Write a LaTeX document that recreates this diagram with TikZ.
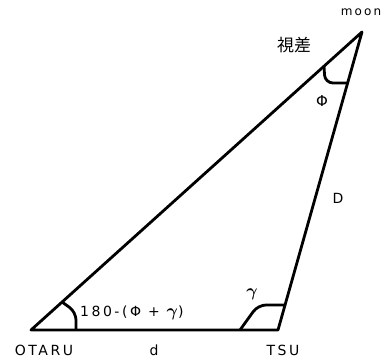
\documentclass[tikz,border=0pt]{standalone}
\usepackage{fontspec}
\setmainfont[LetterSpace=18]{DejaVu Sans}
\newfontfamily\jpfont{Noto Sans CJK JP}
\newcommand{\gam}{{\fontsize{17}{19}\selectfont\boldmath$\gamma$}}
\usetikzlibrary{positioning}

\begin{document}
\begin{tikzpicture}[x=1pt, y=-1pt,
  side/.style={line width=2.8pt, line cap=round, line join=round},
  angmark/.style={line width=2.8pt, rounded corners=8pt},
  lbl/.style={inner sep=0pt, font=\fontsize{14}{16}\selectfont}]

  \useasboundingbox (0,0) rectangle (384,360);

  % vertices
  \coordinate (otaru) at (31,330);
  \coordinate (tsu)   at (278,330);
  \coordinate (moon)  at (362,32);

  \draw[side] (otaru) -- (tsu) -- (moon) -- cycle;

  % angle marks
  \draw[angmark] (62,302) -- (76,312) -- (76,330);
  \draw[angmark] (240,330) -- (258,305) -- (284,305);
  \draw[angmark] (324,66) -- (325,83) -- (348,83);

  % labels
  \node[lbl, font=\fontsize{12}{14}\selectfont] (lmoon) at (361,12) {moon};
  \node[lbl, font=\jpfont\fontsize{17}{19}\selectfont] (lparal) at (294,45) {視差};
  \node[lbl, font=\fontsize{15}{17}\selectfont] (lphi) at (322,101) {Φ};
  \node[lbl] (ldist)  at (338,198) {D};
  \node[lbl] (lgam)   at (252,294) {\gam};
  \node[lbl, anchor=west] (lang) at (80,313) {180-(Φ + \gam)};
  \node[lbl] (lotaru) at (44,350)  {OTARU};
  \node[lbl] (ld)     at (154,350) {d};
  \node[lbl] (ltsu)   at (283,350) {TSU};
\end{tikzpicture}
\end{document}
